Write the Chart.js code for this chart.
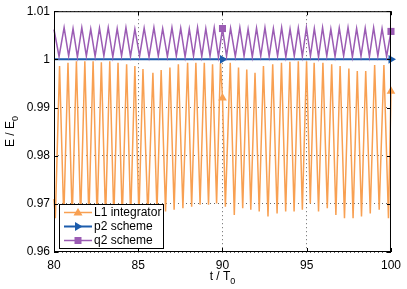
<!DOCTYPE html>
<html>
<head>
<meta charset="utf-8">
<script src="https://cdn.jsdelivr.net/npm/chart.js@4.4.0/dist/chart.umd.min.js"></script>
<style>
  html, body { margin: 0; padding: 0; background: #fff; }
  #chart { display: block; }
</style>
</head>
<body>
<canvas id="chart" width="407" height="289"></canvas>
<script>
const xTicks = [80, 85, 90, 95, 100];
const yTicks = [0.96, 0.97, 0.98, 0.99, 1, 1.01];
const markerTimes = [90, 100];

// L1 integrator (peaks and troughs)
const l1Time = [80.00, 80.08, 80.33, 80.58, 80.83, 81.08, 81.33, 81.58, 81.83, 82.07,
  82.32, 82.56, 82.81, 83.06, 83.31, 83.55, 83.80, 84.05, 84.31, 84.55,
  84.80, 85.04, 85.28, 85.57, 85.87, 86.11, 86.36, 86.62, 86.88, 87.13,
  87.38, 87.65, 87.93, 88.17, 88.42, 88.67, 88.92, 89.17, 89.41, 89.65,
  89.88, 90.00, 90.17, 90.46, 90.70, 90.95, 91.20, 91.44, 91.68, 91.93,
  92.18, 92.43, 92.70, 92.98, 93.24, 93.50, 93.75, 94.00, 94.25, 94.50,
  94.74, 94.99, 95.21, 95.44, 95.70, 95.96, 96.22, 96.48, 96.73, 96.98,
  97.24, 97.50, 97.75, 98.00, 98.25, 98.50, 98.77, 99.03, 99.30, 99.58,
  99.85, 100.00];
const l1Energy = [0.9710, 0.9670, 0.9986, 0.9670, 0.9993, 0.9670, 0.9996, 0.9670, 0.9996, 0.9670,
  0.9996, 0.9670, 0.9994, 0.9670, 0.9996, 0.9670, 0.9993, 0.9670, 0.9990, 0.9670,
  0.9986, 0.9675, 0.9980, 0.9674, 0.9972, 0.9684, 0.9978, 0.9684, 0.9983, 0.9688,
  0.9990, 0.9691, 0.9993, 0.9694, 0.9993, 0.9698, 0.9993, 0.9698, 0.9990, 0.9701,
  0.9993, 0.9920, 0.9694, 0.9993, 0.9677, 0.9983, 0.9691, 0.9979, 0.9688, 0.9972,
  0.9684, 0.9986, 0.9674, 0.9990, 0.9680, 0.9993, 0.9684, 0.9995, 0.9684, 0.9996,
  0.9688, 0.9996, 0.9701, 0.9993, 0.9684, 0.9993, 0.9691, 0.9990, 0.9677, 0.9986,
  0.9670, 0.9981, 0.9670, 0.9976, 0.9674, 0.9976, 0.9680, 0.9988, 0.9688, 0.9988,
  0.9670, 0.9934];

// p2 scheme
const p2Time = [80, 90, 100];
const p2Energy = [1.0000, 1.0000, 1.0000];

// q2 scheme
const q2Time = [80.00, 80.30, 80.60, 80.87, 81.13, 81.39, 81.65, 81.92, 82.18, 82.44,
  82.70, 82.96, 83.22, 83.49, 83.75, 84.01, 84.27, 84.54, 84.80, 85.08,
  85.35, 85.64, 85.93, 86.19, 86.45, 86.73, 87.00, 87.26, 87.52, 87.78,
  88.03, 88.28, 88.52, 88.77, 89.01, 89.26, 89.51, 89.76, 90.00, 90.24,
  90.48, 90.76, 91.03, 91.28, 91.52, 91.77, 92.02, 92.27, 92.52, 92.77,
  93.02, 93.27, 93.51, 93.76, 94.01, 94.26, 94.50, 94.74, 94.98, 95.22,
  95.45, 95.70, 95.94, 96.19, 96.43, 96.68, 96.93, 97.19, 97.45, 97.71,
  97.96, 98.22, 98.47, 98.72, 98.97, 99.22, 99.47, 99.74, 100.00];
const q2Energy = [1.0062, 1.0006, 1.0066, 1.0007, 1.0064, 1.0005, 1.0066, 1.0007, 1.0063, 1.0006,
  1.0065, 1.0007, 1.0066, 1.0005, 1.0064, 1.0007, 1.0066, 1.0006, 1.0063, 1.0007,
  1.0065, 1.0005, 1.0066, 1.0007, 1.0064, 1.0006, 1.0066, 1.0007, 1.0065, 1.0005,
  1.0063, 1.0007, 1.0066, 1.0006, 1.0064, 1.0007, 1.0066, 1.0005, 1.0064, 1.0007,
  1.0065, 1.0006, 1.0066, 1.0007, 1.0063, 1.0005, 1.0065, 1.0007, 1.0066, 1.0006,
  1.0064, 1.0007, 1.0066, 1.0005, 1.0063, 1.0007, 1.0065, 1.0006, 1.0066, 1.0007,
  1.0064, 1.0005, 1.0066, 1.0007, 1.0063, 1.0006, 1.0065, 1.0007, 1.0066, 1.0005,
  1.0064, 1.0007, 1.0065, 1.0006, 1.0066, 1.0007, 1.0064, 1.0006, 1.0058];

const ORANGE = 'rgb(248,160,82)';
const BLUE = 'rgb(28,92,172)';
const PURPLE = 'rgb(155,92,180)';
const FONT = '"Liberation Sans", Arial, sans-serif';

function toPoints(xs, ys) {
	return xs.map((x, i) => ({ x: x, y: ys[i] }));
}

function markerRadius(c) {
	return c.raw && markerTimes.includes(c.raw.x) ? 5 : 0;
}

// box, inward ticks
const framePlugin = {
	id: 'frame',
	afterDatasetsDraw(chart) {
		const ctx = chart.ctx;
		const { left, right, top, bottom } = chart.chartArea;
		const xs = chart.scales.x, ys = chart.scales.y;
		ctx.save();
		ctx.strokeStyle = '#000';
		ctx.lineWidth = 1;
		ctx.beginPath();
		xTicks.forEach(v => {
			const px = Math.round(xs.getPixelForValue(v)) + 0.5;
			ctx.moveTo(px, bottom); ctx.lineTo(px, bottom - 4);
			ctx.moveTo(px, top); ctx.lineTo(px, top + 4);
		});
		yTicks.forEach(v => {
			const py = Math.round(ys.getPixelForValue(v)) + 0.5;
			ctx.moveTo(left, py); ctx.lineTo(left + 4, py);
			ctx.moveTo(right, py); ctx.lineTo(right - 4, py);
		});
		ctx.stroke();
		ctx.strokeRect(left + 0.5, top + 0.5, right - left - 1, bottom - top - 1);
		ctx.restore();
	}
};

function drawMarker(ctx, style, x, y, color) {
	ctx.fillStyle = color;
	ctx.beginPath();
	if (style === 'triangle') {
		ctx.moveTo(x, y - 4.5); ctx.lineTo(x + 4.5, y + 3); ctx.lineTo(x - 4.5, y + 3);
	} else if (style === 'triRight') {
		ctx.moveTo(x + 4.5, y); ctx.lineTo(x - 3, y - 4.5); ctx.lineTo(x - 3, y + 4.5);
	} else {
		ctx.rect(x - 3.5, y - 3.5, 7, 7);
	}
	ctx.closePath();
	ctx.fill();
}

// legend box inside the plot, bottom left
const boxLegend = {
	id: 'boxLegend',
	afterDraw(chart) {
		const ctx = chart.ctx;
		const bx = 59.5, by = 204.5, bw = 104, bh = 44;
		ctx.save();
		ctx.fillStyle = '#fff';
		ctx.fillRect(bx, by, bw, bh);
		ctx.strokeStyle = '#000';
		ctx.lineWidth = 1;
		ctx.strokeRect(bx, by, bw, bh);
		const styles = ['triangle', 'triRight', 'rect'];
		chart.data.datasets.forEach((ds, i) => {
			const y = by + 8 + i * 14;
			ctx.strokeStyle = ds.borderColor;
			ctx.lineWidth = ds.borderWidth;
			ctx.beginPath();
			ctx.moveTo(64, y); ctx.lineTo(92, y);
			ctx.stroke();
			drawMarker(ctx, styles[i], 78, y, ds.borderColor);
			ctx.fillStyle = '#000';
			ctx.font = '12px ' + FONT;
			ctx.textBaseline = 'middle';
			ctx.textAlign = 'left';
			ctx.fillText(ds.label, 94, y + 0.5);
		});
		ctx.restore();
	}
};

// axis titles with subscript
const axisTitles = {
	id: 'axisTitles',
	afterDraw(chart) {
		const ctx = chart.ctx;
		const { left, right, top, bottom } = chart.chartArea;
		ctx.save();
		ctx.fillStyle = '#000';
		ctx.textBaseline = 'alphabetic';
		ctx.textAlign = 'left';
		const put = (main, sub, cx, cy) => {
			ctx.font = '12px ' + FONT;
			const w1 = ctx.measureText(main).width;
			ctx.font = '9px ' + FONT;
			const w2 = ctx.measureText(sub).width;
			const x0 = cx - (w1 + w2) / 2;
			ctx.font = '12px ' + FONT;
			ctx.fillText(main, x0, cy);
			ctx.font = '9px ' + FONT;
			ctx.fillText(sub, x0 + w1, cy + 4);
		};
		put('t / T', '0', (left + right) / 2, 280);
		ctx.translate(14, (top + bottom) / 2);
		ctx.rotate(-Math.PI / 2);
		put('E / E', '0', 0, 0);
		ctx.restore();
	}
};

const gridCommon = {
	color: 'rgba(0,0,0,0.6)',
	lineWidth: 1,
	drawTicks: false
};

const ctx = document.getElementById('chart').getContext('2d');
new Chart(ctx, {
	type: 'line',
	data: {
		datasets: [{
			label: 'L1 integrator',
			data: toPoints(l1Time, l1Energy),
			borderColor: ORANGE,
			backgroundColor: ORANGE,
			borderWidth: 1.5,
			pointStyle: 'triangle',
			order: 3
		}, {
			label: 'p2 scheme',
			data: toPoints(p2Time, p2Energy),
			borderColor: BLUE,
			backgroundColor: BLUE,
			borderWidth: 2,
			pointStyle: 'triangle',
			pointRotation: 90,
			order: 2
		}, {
			label: 'q2 scheme',
			data: toPoints(q2Time, q2Energy),
			borderColor: PURPLE,
			backgroundColor: PURPLE,
			borderWidth: 1.5,
			pointStyle: 'rect',
			order: 1
		}]
	},
	options: {
		responsive: false,
		animation: false,
		devicePixelRatio: 1,
		layout: { padding: { top: 11, right: 15, left: 0, bottom: 0 } },
		datasets: {
			line: {
				clip: false,
				tension: 0,
				pointRadius: markerRadius,
				pointHoverRadius: 0,
				pointBorderWidth: 0
			}
		},
		plugins: {
			legend: { display: false },
			tooltip: { enabled: false }
		},
		scales: {
			x: {
				type: 'linear',
				min: 80,
				max: 100,
				afterBuildTicks: s => { s.ticks = xTicks.map(v => ({ value: v })); },
				afterFit: s => { s.height = 37; },
				grid: gridCommon,
				border: { display: false, dash: [1, 3] },
				ticks: {
					color: '#000',
					padding: 6,
					maxRotation: 0,
					font: { family: FONT, size: 12 }
				}
			},
			y: {
				min: 0.96,
				max: 1.01,
				afterBuildTicks: s => { s.ticks = yTicks.map(v => ({ value: v })); },
				afterFit: s => { s.width = 54; },
				grid: gridCommon,
				border: { display: false, dash: [1, 3] },
				ticks: {
					color: '#000',
					padding: 4,
					font: { family: FONT, size: 12 },
					callback: v => String(+v.toFixed(2))
				}
			}
		}
	},
	plugins: [framePlugin, boxLegend, axisTitles]
});
</script>
</body>
</html>
